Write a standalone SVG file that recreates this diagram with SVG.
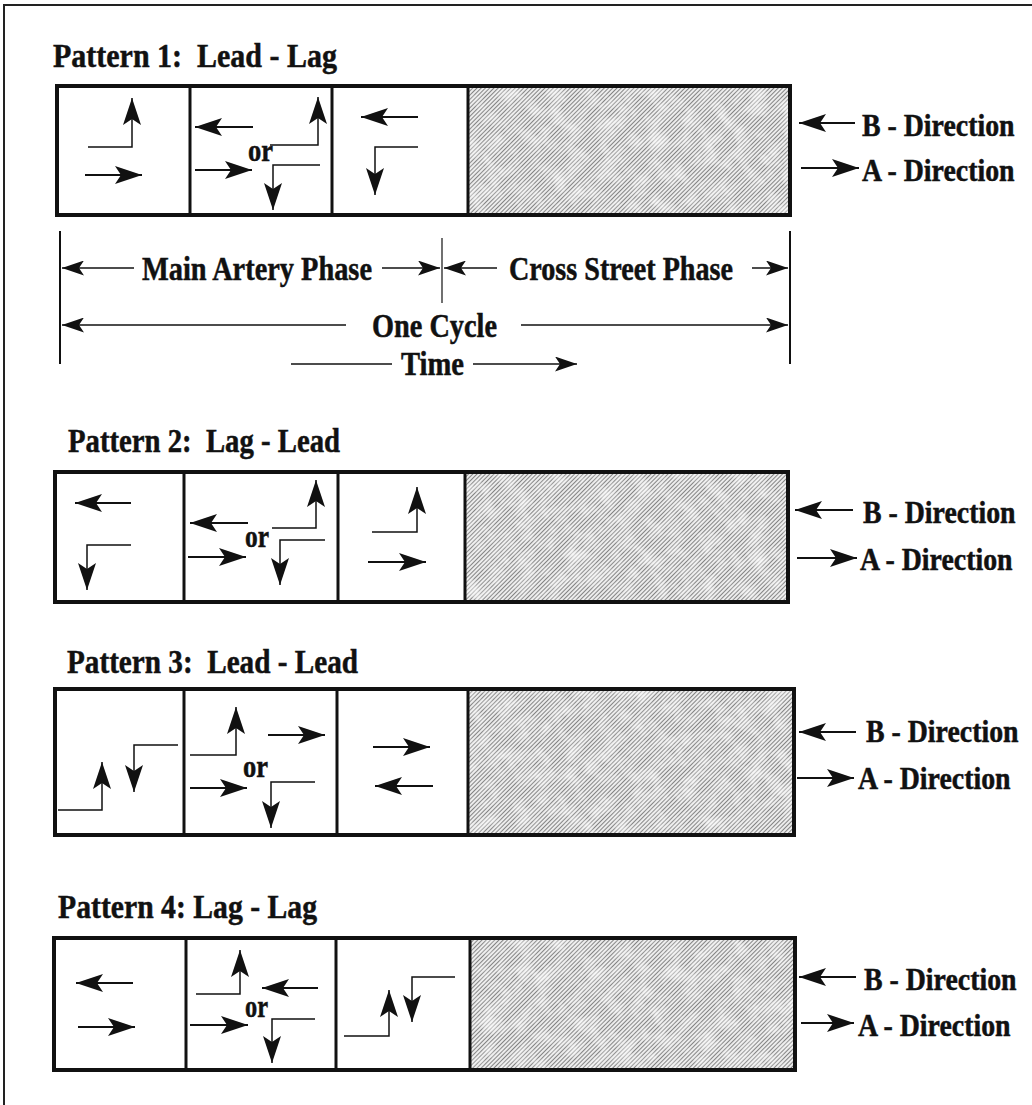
<svg xmlns="http://www.w3.org/2000/svg" width="1032" height="1105" viewBox="0 0 1032 1105">
  <style>
    .t { font-family: "Liberation Serif", "Times New Roman", serif; font-weight: bold; font-size: 33px; fill: #111; stroke: #111; stroke-width: 0.5; }
    .title { font-size: 34px; }
    .or { font-size: 32px; }
    .lbl { font-size: 32px; }
    .frame { fill: none; stroke: #222; stroke-width: 2; }
    .box { fill: #fff; stroke: #111; stroke-width: 4; }
    .div { stroke: #111; stroke-width: 3; }
    .shade { fill: url(#hatch); stroke: none; }
    .arr { fill: none; stroke: #111; stroke-width: 2; marker-end: url(#head); }
    .turn { fill: none; stroke: #111; stroke-width: 1.5; marker-end: url(#head); }
    .tl { fill: none; stroke: #111; stroke-width: 1.6; marker-end: url(#headS); }
    .bar { stroke: #111; stroke-width: 2; }
  </style>
  <defs>
    <marker id="head" viewBox="0 0 27 18" refX="27" refY="9" markerWidth="27" markerHeight="18" markerUnits="userSpaceOnUse" orient="auto">
      <path d="M0,0 L27,9 L0,18 L6,9 Z" fill="#111"/>
    </marker>
    <marker id="headS" viewBox="0 0 22 15" refX="22" refY="7.5" markerWidth="22" markerHeight="15" markerUnits="userSpaceOnUse" orient="auto">
      <path d="M0,0 L22,7.5 L0,15 L5,7.5 Z" fill="#111"/>
    </marker>
    <!-- fine diagonal hatching for the cross-street phase -->
    <pattern id="hatch" width="3" height="3" patternUnits="userSpaceOnUse" patternTransform="rotate(45)">
      <rect width="3" height="3" fill="#ececec"/>
      <line x1="0.5" y1="0" x2="0.5" y2="3" stroke="#707070" stroke-width="0.85"/>
    </pattern>
    <filter id="mottle" x="0" y="0" width="100%" height="100%">
      <feTurbulence type="fractalNoise" baseFrequency="0.06" numOctaves="3" seed="7"/>
      <feColorMatrix type="matrix" values="0 0 0 0 1  0 0 0 0 1  0 0 0 0 1  1.3 0 0 0 -0.55"/>
    </filter>
  </defs>

  <!-- page frame: top and left rules -->
  <path class="frame" d="M4,1105 V5 H1032"/>

  <!-- ===== Pattern 1 ===== -->
  <g id="pattern1">
    <text class="t title" x="53" y="67" textLength="284" lengthAdjust="spacingAndGlyphs" xml:space="preserve">Pattern 1:  Lead - Lag</text>
    <rect class="box" x="57" y="86" width="733" height="129"/>
    <rect class="shade" x="468" y="88" width="320" height="125"/>
    <rect x="468" y="88" width="320" height="125" fill="#fff" filter="url(#mottle)"/>
    <line class="div" x1="190" y1="86" x2="190" y2="215"/>
    <line class="div" x1="332" y1="86" x2="332" y2="215"/>
    <line class="div" x1="468" y1="86" x2="468" y2="215"/>
    <g id="p1-cell1">
      <polyline class="turn" points="88,147 132,147 132,98"/>
      <line class="arr" x1="85" y1="175" x2="142" y2="175"/>
    </g>
    <g id="p1-cell2">
      <line class="arr" x1="253" y1="127" x2="195" y2="127"/>
      <polyline class="turn" points="270,145 318,145 318,97"/>
      <text class="t or" x="248" y="161" textLength="25" lengthAdjust="spacingAndGlyphs">or</text>
      <line class="arr" x1="195" y1="170" x2="252" y2="170"/>
      <polyline class="turn" points="320,165 273,165 273,210"/>
    </g>
    <g id="p1-cell3">
      <line class="arr" x1="418" y1="117" x2="361" y2="117"/>
      <polyline class="turn" points="418,147 375,147 375,195"/>
    </g>
    <g id="p1-legend">
      <line class="arr" x1="855" y1="123" x2="799" y2="123"/>
      <text class="t lbl" transform="translate(862,136) scale(0.87,1)">B - Direction</text>
      <line class="arr" x1="801" y1="168" x2="859" y2="168"/>
      <text class="t lbl" transform="translate(862,181) scale(0.87,1)">A - Direction</text>
    </g>
  </g>

  <!-- ===== Timing scale ===== -->
  <g id="timeline">
    <line class="bar" x1="60" y1="231" x2="60" y2="364"/>
    <line class="bar" x1="790" y1="231" x2="790" y2="364"/>
    <line class="bar" x1="442" y1="238" x2="442" y2="303" style="stroke-width:1.2"/>
    <line class="tl" x1="134" y1="268" x2="62" y2="268"/>
    <text class="t" x="142" y="280" textLength="230" lengthAdjust="spacingAndGlyphs">Main Artery Phase</text>
    <line class="tl" x1="382" y1="268" x2="440" y2="268"/>
    <line class="tl" x1="497" y1="268" x2="444" y2="268"/>
    <text class="t" x="509" y="280" textLength="224" lengthAdjust="spacingAndGlyphs">Cross Street Phase</text>
    <line class="tl" x1="752" y1="268" x2="788" y2="268"/>
    <line class="tl" x1="346" y1="325" x2="62" y2="325"/>
    <text class="t" x="372" y="337" textLength="125" lengthAdjust="spacingAndGlyphs">One Cycle</text>
    <line class="tl" x1="521" y1="325" x2="788" y2="325"/>
    <line x1="291" y1="364" x2="392" y2="364" stroke="#111" stroke-width="1.6"/>
    <text class="t" x="401" y="375" textLength="63" lengthAdjust="spacingAndGlyphs">Time</text>
    <line class="tl" x1="473" y1="364" x2="577" y2="364"/>
  </g>

  <!-- ===== Pattern 2 ===== -->
  <g id="pattern2">
    <text class="t title" x="68" y="452" textLength="272" lengthAdjust="spacingAndGlyphs" xml:space="preserve">Pattern 2:  Lag - Lead</text>
    <rect class="box" x="55" y="472" width="733" height="130"/>
    <rect class="shade" x="465" y="474" width="321" height="126"/>
    <rect x="465" y="474" width="321" height="126" fill="#fff" filter="url(#mottle)"/>
    <line class="div" x1="184" y1="472" x2="184" y2="602"/>
    <line class="div" x1="338" y1="472" x2="338" y2="602"/>
    <line class="div" x1="465" y1="472" x2="465" y2="602"/>
    <g id="p2-cell1">
      <line class="arr" x1="131" y1="503" x2="75" y2="503"/>
      <polyline class="turn" points="131,545 87,545 87,590"/>
    </g>
    <g id="p2-cell2">
      <line class="arr" x1="248" y1="523" x2="190" y2="523"/>
      <polyline class="turn" points="272,528 316,528 316,480"/>
      <text class="t or" x="245" y="547" textLength="24" lengthAdjust="spacingAndGlyphs">or</text>
      <line class="arr" x1="188" y1="557" x2="246" y2="557"/>
      <polyline class="turn" points="325,540 280,540 280,585"/>
    </g>
    <g id="p2-cell3">
      <polyline class="turn" points="372,532 417,532 417,487"/>
      <line class="arr" x1="368" y1="562" x2="426" y2="562"/>
    </g>
    <g id="p2-legend">
      <line class="arr" x1="853" y1="510" x2="795" y2="510"/>
      <text class="t lbl" transform="translate(863,523) scale(0.87,1)">B - Direction</text>
      <line class="arr" x1="797" y1="558" x2="857" y2="558"/>
      <text class="t lbl" transform="translate(860,570) scale(0.87,1)">A - Direction</text>
    </g>
  </g>

  <!-- ===== Pattern 3 ===== -->
  <g id="pattern3">
    <text class="t title" x="67" y="673" textLength="291" lengthAdjust="spacingAndGlyphs" xml:space="preserve">Pattern 3:  Lead - Lead</text>
    <rect class="box" x="55" y="689" width="739" height="146"/>
    <rect class="shade" x="468" y="691" width="324" height="142"/>
    <rect x="468" y="691" width="324" height="142" fill="#fff" filter="url(#mottle)"/>
    <line class="div" x1="184" y1="689" x2="184" y2="835"/>
    <line class="div" x1="337" y1="689" x2="337" y2="835"/>
    <line class="div" x1="468" y1="689" x2="468" y2="835"/>
    <g id="p3-cell1">
      <polyline class="turn" points="58,810 102,810 102,762"/>
      <polyline class="turn" points="178,745 134,745 134,792"/>
    </g>
    <g id="p3-cell2">
      <polyline class="turn" points="190,755 236,755 236,707"/>
      <line class="arr" x1="268" y1="735" x2="325" y2="735"/>
      <text class="t or" x="243" y="777" textLength="25" lengthAdjust="spacingAndGlyphs">or</text>
      <line class="arr" x1="190" y1="788" x2="247" y2="788"/>
      <polyline class="turn" points="315,782 271,782 271,828"/>
    </g>
    <g id="p3-cell3">
      <line class="arr" x1="373" y1="747" x2="430" y2="747"/>
      <line class="arr" x1="433" y1="786" x2="375" y2="786"/>
    </g>
    <g id="p3-legend">
      <line class="arr" x1="856" y1="732" x2="799" y2="732"/>
      <text class="t lbl" transform="translate(866,742) scale(0.87,1)">B - Direction</text>
      <line class="arr" x1="797" y1="778" x2="854" y2="778"/>
      <text class="t lbl" transform="translate(858,789) scale(0.87,1)">A - Direction</text>
    </g>
  </g>

  <!-- ===== Pattern 4 ===== -->
  <g id="pattern4">
    <text class="t title" x="58" y="918" textLength="259" lengthAdjust="spacingAndGlyphs">Pattern 4: Lag - Lag</text>
    <rect class="box" x="54" y="938" width="741" height="132"/>
    <rect class="shade" x="470" y="940" width="323" height="128"/>
    <rect x="470" y="940" width="323" height="128" fill="#fff" filter="url(#mottle)"/>
    <line class="div" x1="186" y1="938" x2="186" y2="1070"/>
    <line class="div" x1="336" y1="938" x2="336" y2="1070"/>
    <line class="div" x1="470" y1="938" x2="470" y2="1070"/>
    <g id="p4-cell1">
      <line class="arr" x1="133" y1="983" x2="76" y2="983"/>
      <line class="arr" x1="78" y1="1027" x2="135" y2="1027"/>
    </g>
    <g id="p4-cell2">
      <polyline class="turn" points="196,994 240,994 240,950"/>
      <line class="arr" x1="318" y1="988" x2="262" y2="988"/>
      <text class="t or" x="245" y="1017" textLength="23" lengthAdjust="spacingAndGlyphs">or</text>
      <line class="arr" x1="190" y1="1025" x2="248" y2="1025"/>
      <polyline class="turn" points="315,1019 272,1019 272,1063"/>
    </g>
    <g id="p4-cell3">
      <polyline class="turn" points="344,1036 389,1036 389,990"/>
      <polyline class="turn" points="455,977 412,977 412,1022"/>
    </g>
    <g id="p4-legend">
      <line class="arr" x1="856" y1="977" x2="799" y2="977"/>
      <text class="t lbl" transform="translate(864,990) scale(0.87,1)">B - Direction</text>
      <line class="arr" x1="801" y1="1023" x2="854" y2="1023"/>
      <text class="t lbl" transform="translate(858,1036) scale(0.87,1)">A - Direction</text>
    </g>
  </g>
</svg>
